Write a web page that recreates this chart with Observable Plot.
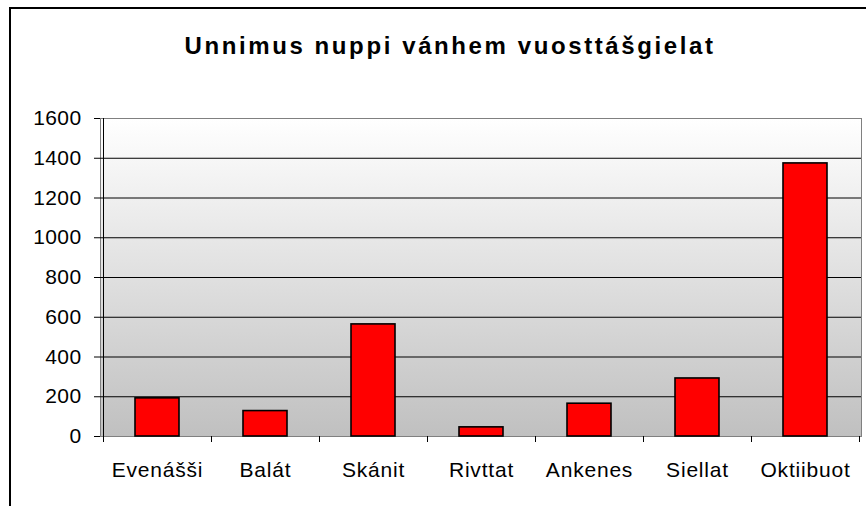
<!DOCTYPE html>
<html>
<head>
<meta charset="utf-8">
<script src="https://cdn.jsdelivr.net/npm/d3@7"></script>
<script src="https://cdn.jsdelivr.net/npm/@observablehq/plot@0.6"></script>
<style>
  html, body { margin: 0; padding: 0; background: #fff; }
  #wrap { position: relative; width: 866px; height: 506px; overflow: hidden; font-family: "Liberation Sans", Arial, sans-serif; }
  #border { position: absolute; left: 9px; top: 7px; width: 1000px; height: 1000px; border-left: 2px solid #000; border-top: 2px solid #000; }
  #title { position: absolute; left: 0; top: 34px; width: 900px; text-align: center; font-size: 24px; line-height: 1; font-weight: bold; letter-spacing: 2.6px; color: #000; z-index: 2; }
  #chart { position: absolute; left: 0; top: 0; z-index: 1; }
</style>
</head>
<body>
<div id="wrap">
  <div id="border"></div>
  <div id="title">Unnimus nuppi vánhem vuosttášgielat</div>
  <div id="chart"></div>
</div>
<script>
const titleText = "Unnimus nuppi vánhem vuosttášgielat";
const categories = ["Evenášši", "Balát", "Skánit", "Rivttat", "Ankenes", "Siellat", "Oktiibuot"];
const values = [192, 128, 564, 46, 165, 292, 1374];
const yTicks = [0, 200, 400, 600, 800, 1000, 1200, 1400, 1600];

const data = categories.map((c, i) => ({cat: c, value: values[i]}));

const edgeMark = (index, scales) => {
  const {x, y} = scales;
  const bw = typeof x.bandwidth === "function" ? x.bandwidth() : x.bandwidth;
  const edges = categories.map(c => x(c)).concat([x(categories[categories.length - 1]) + bw]);
  const y0 = y(0);
  const g = d3.create("svg:g").attr("stroke", "#000").attr("stroke-width", 1);
  g.selectAll("line.t").data(edges).join("line")
    .attr("x1", d => Math.round(d) + 0.5).attr("x2", d => Math.round(d) + 0.5)
    .attr("y1", y0).attr("y2", y0 + 6);
  g.append("line")
    .attr("x1", Math.round(edges[0]) + 0.5).attr("x2", Math.round(edges[0]) + 0.5)
    .attr("y1", y(yTicks[yTicks.length - 1])).attr("y2", y0);
  return g.node();
};

const svg = Plot.plot({
  width: 866,
  height: 506,
  marginTop: 118,
  marginBottom: 70,
  marginLeft: 100,
  marginRight: 5,
  style: {fontFamily: "'Liberation Sans', Arial, sans-serif", fontSize: "21px", color: "#000", background: "transparent"},
  x: {domain: categories, padding: 0, axis: null, label: null},
  y: {domain: [0, 1600], axis: null, label: null},
  marks: [
    Plot.frame({fill: "#ddd", stroke: "#808080"}),
    Plot.gridY(yTicks.slice(1, -1), {stroke: "#000", strokeOpacity: 1, strokeWidth: 1}),
    Plot.ruleY([0], {stroke: "#808080"}),
    Plot.barY(data, {x: "cat", y: "value", fill: "#ff0000", stroke: "#000", strokeWidth: 1.6, insetLeft: 32, insetRight: 32}),
    Plot.axisY(yTicks, {tickSize: 6, tickPadding: 13, stroke: "#000", fill: "#000", fontSize: 21, label: null, tickFormat: d => String(d)}),
    Plot.axisX(categories, {tickSize: 0, tickPadding: 26, fill: "#000", fontSize: 21, label: null}),
    edgeMark
  ]
});

// gradient background for plot area
const defs = d3.select(svg).insert("defs", ":first-child");
const grad = defs.append("linearGradient").attr("id", "bgGrad").attr("x1", 0).attr("y1", 0).attr("x2", 0).attr("y2", 1);
grad.append("stop").attr("offset", "0%").attr("stop-color", "#ffffff");
grad.append("stop").attr("offset", "100%").attr("stop-color", "#c0c0c0");
d3.select(svg).selectAll('[aria-label="frame"]').each(function() {
  const el = d3.select(this);
  if (this.tagName === "rect") el.attr("fill", "url(#bgGrad)");
  else el.selectAll("rect").attr("fill", "url(#bgGrad)");
});
d3.select(svg).selectAll('[aria-label="y-axis tick label"] text').attr("letter-spacing", "0.4px");
d3.select(svg).selectAll('[aria-label="x-axis tick label"] text').attr("letter-spacing", "0.8px");

document.getElementById("chart").appendChild(svg);
</script>
</body>
</html>
